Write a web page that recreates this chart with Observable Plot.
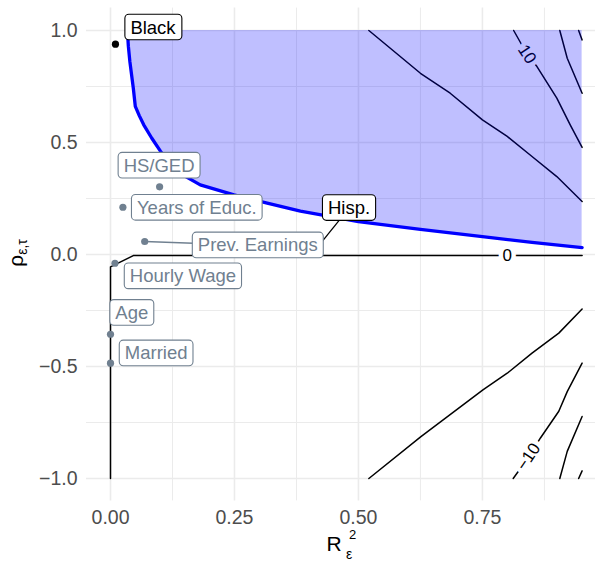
<!DOCTYPE html>
<html><head><meta charset="utf-8">
<script src="https://cdn.jsdelivr.net/npm/d3@7"></script>
<script src="https://cdn.jsdelivr.net/npm/@observablehq/plot@0.6"></script>
<style>
body{margin:0;background:#fff}
svg{font-family:"Liberation Sans",Arial,Helvetica,sans-serif}
</style>
</head><body><div id="chart"></div>
<script>
// ---- data ----
const xTicks = [0, 0.25, 0.5, 0.75];
const xMinor = [0.125, 0.375, 0.625, 0.875];
const yTicks = [-1, -0.5, 0, 0.5, 1];
const yMinor = [-0.75, -0.25, 0.25, 0.75];

// blue threshold curve (R2, rho)
const blueR2  = [0.034,0.036,0.039,0.046,0.050,0.058,0.067,0.083,0.101,0.134,0.181,0.249,0.316,0.383,0.50,0.625,0.75,0.85,0.951];
const blueRho = [1.0,0.93,0.862,0.742,0.661,0.62,0.579,0.52,0.46,0.37,0.311,0.266,0.229,0.194,0.147,0.112,0.080,0.054,0.031];

// contour lines: [R2, rho] pairs per line
const contourZero   = [[0,-1],[0,-0.055],[0.046,-0.005],[0.951,-0.005]];
const contourUpA    = [[0.521,1.0],[0.625,0.809],[0.685,0.72],[0.75,0.601],[0.80,0.527],[0.85,0.4375],[0.90,0.348],[0.951,0.237]];
const contourUpB    = [[0.813,1.0],[0.840,0.894],[0.860,0.839],[0.90,0.698],[0.927,0.579],[0.951,0.478]];
const contourUpC    = [[0.906,1.0],[0.921,0.876],[0.951,0.72]];
const contourUpD    = [[0.944,1.0],[0.951,0.958]];
const contourLoA    = [[0.521,-1.0],[0.626,-0.813],[0.751,-0.604],[0.80,-0.53],[0.85,-0.44],[0.904,-0.351],[0.951,-0.243]];
const contourLoB    = [[0.812,-1.0],[0.843,-0.905],[0.867,-0.819],[0.904,-0.70],[0.921,-0.612],[0.951,-0.485]];
const contourLoC    = [[0.906,-1.0],[0.921,-0.879],[0.951,-0.723]];
const contourLoD    = [[0.944,-1.0],[0.951,-0.966]];

// contour labels
const zeroLabel = {text: "0", x: 0.80, y: -0.005};
const upLabel   = {text: "10", x: 0.840, y: 0.894};
const loLabel   = {text: "\u221210", x: 0.843, y: -0.903};

// covariate benchmark points
const covNames = ["HS/GED","Years of Educ.","Prev. Earnings","Hourly Wage","Age","Married"];
const covR2    = [0.099, 0.025, 0.069, 0.009, 0.0, 0.0];
const covRho   = [0.302, 0.211, 0.058, -0.039, -0.356, -0.485];
const covLabX  = [0.098, 0.174, 0.297, 0.146, 0.043, 0.092];
const covLabY  = [0.396, 0.208, 0.040, -0.098, -0.261, -0.442];

const grpNames = ["Black","Hisp."];
const grpR2    = [0.010, 0.42];
const grpRho   = [0.939, 0.040];
const grpLabX  = [0.0857, 0.481];
const grpLabY  = [1.013, 0.207];

// ---- build tables ----
const blue = blueR2.map((x,i)=>({x, y: blueRho[i]}));
const contourSets = {zero: contourZero, upA: contourUpA, upB: contourUpB, upC: contourUpC, upD: contourUpD,
                     loA: contourLoA, loB: contourLoB, loC: contourLoC, loD: contourLoD};
const contours = Object.entries(contourSets).flatMap(([id, pts]) => pts.map(([x,y]) => ({id, x, y})));
const cov = covNames.map((name,i)=>({name, x: covR2[i], y: covRho[i], lx: covLabX[i], ly: covLabY[i]}));
const grp = grpNames.map((name,i)=>({name, x: grpR2[i], y: grpRho[i], lx: grpLabX[i], ly: grpLabY[i]}));
const covSeg = cov.filter(d => d.name === "Prev. Earnings");
const grpSeg = grp.filter(d => d.name === "Hisp.");

const gray = "#708090";
const fmtX = d3.format(".2f"), fmtY = d3.format(".1f");

const chart = Plot.plot({
  width: 595, height: 562,
  marginLeft: 86, marginRight: 0, marginTop: 7.6, marginBottom: 61.6,
  x: {domain: [-0.0484, 0.978]},
  y: {domain: [-1.1, 1.1]},
  style: {background: "#fff", fontFamily: "'Liberation Sans',Arial,sans-serif"},
  marks: [
    Plot.gridX(xMinor, {stroke: "#ebebeb", strokeOpacity: 1, strokeWidth: 1.0}),
    Plot.gridY(yMinor, {stroke: "#ebebeb", strokeOpacity: 1, strokeWidth: 1.0}),
    Plot.gridX(xTicks, {stroke: "#ebebeb", strokeOpacity: 1, strokeWidth: 1.6}),
    Plot.gridY(yTicks, {stroke: "#ebebeb", strokeOpacity: 1, strokeWidth: 1.6}),
    Plot.axisX(xTicks, {tickSize: 0, tickPadding: 9, tickFormat: fmtX, fontSize: 19.5, color: "#4d4d4d", label: null}),
    Plot.axisY(yTicks, {tickSize: 0, tickPadding: 9, tickFormat: fmtY, fontSize: 19.5, color: "#4d4d4d", label: null}),
    Plot.line(contours, {x: "x", y: "y", z: "id", stroke: "black", strokeWidth: 1.5}),
    Plot.text([zeroLabel], {x: "x", y: "y", text: "text", fontSize: 17, fill: "black", stroke: "white", strokeWidth: 9, paintOrder: "stroke"}),
    Plot.text([upLabel], {x: "x", y: "y", text: "text", fontSize: 17, rotate: 56, fill: "black", stroke: "white", strokeWidth: 9, paintOrder: "stroke"}),
    Plot.text([loLabel], {x: "x", y: "y", text: "text", fontSize: 17, rotate: -56, fill: "black", stroke: "white", strokeWidth: 9, paintOrder: "stroke"}),
    Plot.areaY(blue, {x: "x", y1: "y", y2: 1, fill: "blue", fillOpacity: 0.25}),
    Plot.line(blue, {x: "x", y: "y", stroke: "blue", strokeWidth: 3.3}),
    Plot.dot(grp, {x: "x", y: "y", r: 3.6, fill: "black", stroke: "none"}),
    Plot.link(grpSeg, {x1: "x", y1: "y", x2: "lx", y2: "ly", stroke: "black", strokeWidth: 1.3}),
    Plot.text(grp, {x: "lx", y: "ly", text: "name", fontSize: 18.5, fill: "black", lineAnchor: "middle", ariaDescription: "boxlabel-black"}),
    Plot.dot(cov, {x: "x", y: "y", r: 3.6, fill: gray, stroke: "none"}),
    Plot.link(covSeg, {x1: "x", y1: "y", x2: "lx", y2: "ly", stroke: gray, strokeWidth: 1.3}),
    Plot.text(cov, {x: "lx", y: "ly", text: "name", fontSize: 18.5, fill: gray, lineAnchor: "middle", ariaDescription: "boxlabel-gray"})
  ]
});
document.getElementById("chart").appendChild(chart);

// boxes behind labels
function boxLabels(desc, color) {
  const groups = Array.from(chart.querySelectorAll("g")).filter(g => g.getAttribute("aria-description") === desc);
  groups.forEach(g => {
    Array.from(g.querySelectorAll("text")).forEach(t => {
      const b = t.getBBox();
      const r = document.createElementNS("http://www.w3.org/2000/svg", "rect");
      const px = 5.5, py = 2.3;
      r.setAttribute("x", b.x - px); r.setAttribute("y", b.y - py);
      r.setAttribute("width", b.width + 2*px); r.setAttribute("height", b.height + 2*py);
      r.setAttribute("rx", 4); r.setAttribute("fill", "white");
      r.setAttribute("stroke", color); r.setAttribute("stroke-width", 1.1);
      if (t.getAttribute("transform")) r.setAttribute("transform", t.getAttribute("transform"));
      t.parentNode.insertBefore(r, t);
    });
  });
}
boxLabels("boxlabel-black", "black");
boxLabels("boxlabel-gray", gray);

// axis titles with sub/superscripts
const svg = d3.select(chart);
const xt = svg.append("g").attr("fill", "black");
xt.append("text").attr("x", 334).attr("y", 551).attr("font-size", 21).text("R");
xt.append("text").attr("x", 352.5).attr("y", 539).attr("font-size", 13).text("2");
xt.append("text").attr("x", 349).attr("y", 559).attr("font-size", 14).text("ε");
const yt = svg.append("text").attr("transform", "translate(23,253) rotate(-90)").attr("text-anchor", "middle").attr("fill", "black");
yt.append("tspan").attr("font-size", 21).text("ρ");
yt.append("tspan").attr("font-size", 14).attr("dy", 4).text("ε,τ");
</script>
</body></html>
